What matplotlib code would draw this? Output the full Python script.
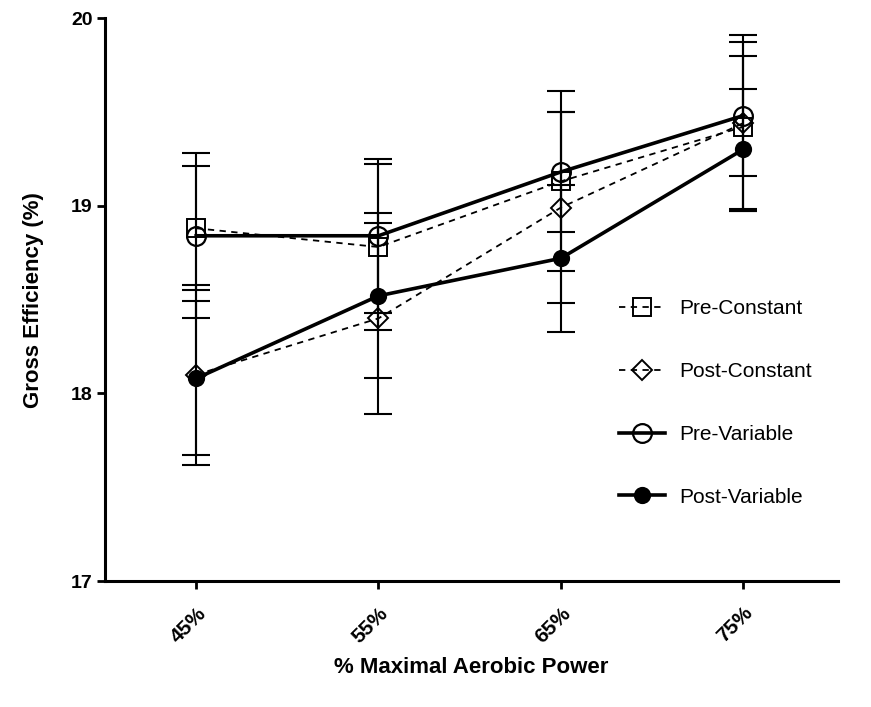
import matplotlib
matplotlib.use('Agg')
import matplotlib.pyplot as plt
from matplotlib.lines import Line2D
import numpy as np

plt.rcParams['font.family'] = ['Liberation Sans', 'DejaVu Sans']

# data
categories = ['45%', '55%', '65%', '75%']
preConstant = [18.88, 18.78, 19.13, 19.42]
preConstantSd = [0.33, 0.44, 0.48, 0.45]
postConstant = [18.10, 18.40, 18.99, 19.44]
postConstantSd = [0.48, 0.51, 0.51, 0.47]
preVariable = [18.84, 18.84, 19.18, 19.48]
preVariableSd = [0.44, 0.41, 0.32, 0.32]
postVariable = [18.08, 18.52, 18.72, 19.30]
postVariableSd = [0.41, 0.44, 0.39, 0.32]

x = np.arange(len(categories))

fig = plt.figure(figsize=(8.71, 7.07), dpi=100)
ax = fig.add_axes([0.1206, 0.178, 0.8414, 0.7965])

dashStyle = (0, (3.5, 3))

#error bars first so markers sit on top
for vals, sd in [(preConstant, preConstantSd), (postConstant, postConstantSd),
                 (preVariable, preVariableSd), (postVariable, postVariableSd)]:
    ax.errorbar(x, vals, yerr=sd, fmt='none', ecolor='black', elinewidth=1.5,
                capsize=10, capthick=1.5, zorder=2)

ax.plot(x, preConstant, color='black', linestyle=dashStyle, linewidth=1.3,
        marker='s', markersize=13, markerfacecolor='none', markeredgewidth=1.4, zorder=3)
ax.plot(x, postConstant, color='black', linestyle=dashStyle, linewidth=1.3,
        marker='D', markersize=10, markerfacecolor='none', markeredgewidth=1.4, zorder=3)
ax.plot(x, preVariable, color='black', linestyle='-', linewidth=2.6,
        marker='o', markersize=13.5, markerfacecolor='none', markeredgewidth=1.6, zorder=4)
ax.plot(x, postVariable, color='black', linestyle='-', linewidth=2.6,
        marker='o', markersize=11, markerfacecolor='black', markeredgewidth=1.4, zorder=4)

ax.set_xlim(-0.5, 3.52)
ax.set_ylim(17, 20)
ax.set_yticks([17, 18, 19, 20])
ax.set_xticks(x)
ax.set_xticklabels(categories, rotation=45, ha='right', rotation_mode='anchor',
                   fontsize=15, fontweight='bold')
for lab in ax.get_yticklabels():
    lab.set_fontsize(14)
    lab.set_fontweight('bold')

for side in ['top', 'right']:
    ax.spines[side].set_visible(False)
for side in ['left', 'bottom']:
    ax.spines[side].set_linewidth(2.2)
ax.tick_params(axis='both', width=2, length=6, color='black')
ax.tick_params(axis='y', pad=3)
ax.tick_params(axis='x', pad=10)

ax.set_ylabel('Gross Efficiency (%)', fontsize=16, fontweight='bold', labelpad=19)
ax.set_xlabel('% Maximal Aerobic Power', fontsize=16, fontweight='bold', labelpad=8)

#legend
handles = [
    Line2D([], [], color='black', linestyle=dashStyle, linewidth=1.3, marker='s',
           markersize=13, markerfacecolor='none', markeredgewidth=1.4),
    Line2D([], [], color='black', linestyle=dashStyle, linewidth=1.3, marker='D',
           markersize=10, markerfacecolor='none', markeredgewidth=1.4),
    Line2D([], [], color='black', linestyle='-', linewidth=2.6, marker='o',
           markersize=13.5, markerfacecolor='none', markeredgewidth=1.6),
    Line2D([], [], color='black', linestyle='-', linewidth=2.6, marker='o',
           markersize=11, markerfacecolor='black', markeredgewidth=1.4),
]
labels = ['Pre-Constant', 'Post-Constant', 'Pre-Variable', 'Post-Variable']
ax.legend(handles, labels, loc='upper left', bbox_to_anchor=(0.69, 0.515),
          frameon=False, fontsize=15, handlelength=2.2, handletextpad=0.7,
          labelspacing=2.1, borderaxespad=0)

plt.savefig('out.png', dpi=100)
